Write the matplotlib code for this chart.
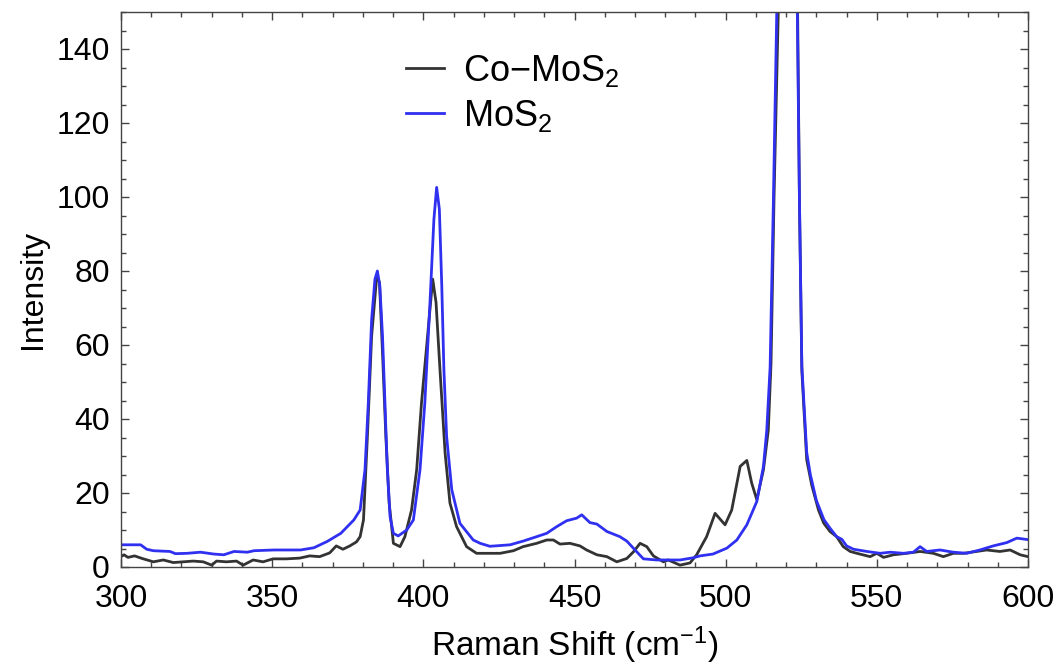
import matplotlib
matplotlib.use("Agg")
import matplotlib.pyplot as plt
from matplotlib.ticker import MultipleLocator

# ---------------- data ----------------
co_x = [300, 301, 302.3, 304.5, 307, 310.7, 314, 317.3, 320.6, 323.9, 327.2, 330, 331.6, 334.9,
        338.2, 340.4, 343.7, 347, 350.3, 354.7, 359.1, 362.4, 365.7, 369, 371.2, 373.4, 375.7,
        377.9, 379.1, 380.2, 381.5, 382.9, 384.6, 385.5, 386.5, 387.6, 388.7, 390.1, 392.3, 393.9,
        396.1, 397.8, 399.4, 401.1, 403.1, 404.2, 405.5, 407.2, 408.8, 411, 414.3, 417.6, 420.9,
        425.4, 429.8, 433, 437.5, 440.8, 443, 445.2, 448.5, 451.8, 454, 457.4, 460.7, 464, 467.3,
        469.5, 471.7, 473.9, 476.1, 479.4, 481, 484.9, 488.2, 490.4, 493.7, 496.5, 499.8, 502,
        504.8, 507, 508.6, 510.3, 512.5, 514.1, 515, 516, 517.4, 519, 520.3, 521.8, 523.8, 524.4,
        525.2, 526.8, 528.5, 530.7, 532.4, 534.5, 536.7, 538.9, 541.2, 543.4, 547.8, 550, 552.2,
        555.5, 559.9, 564.3, 568.7, 572, 575.3, 578.6, 583, 586.3, 590.7, 594.1, 597.4, 600]
co_y = [2.8, 3.3, 2.6, 3.0, 2.3, 1.4, 1.9, 1.2, 1.4, 1.6, 1.4, 0.5, 1.6, 1.4,
        1.6, 0.5, 1.9, 1.4, 2.2, 2.2, 2.4, 3.0, 2.8, 3.8, 5.7, 4.8, 5.7,
        6.8, 8.2, 12.7, 35.3, 62.4, 78.7, 76.9, 57.9, 35.3, 17.3, 6.4, 5.5, 8.2,
        15.4, 26.3, 44.4, 59.7, 77.8, 71.5, 53.4, 30.8, 17.3, 10.9, 5.5, 3.7, 3.7,
        3.7, 4.4, 5.5, 6.4, 7.3, 7.3, 6.2, 6.4, 5.7, 4.6, 3.3, 2.8, 1.4, 2.3,
        4.1, 6.4, 5.5, 3.0, 1.4, 1.9, 0.5, 1.1, 3.3, 8.2, 14.5, 11.4, 15.4,
        27.2, 28.8, 22.7, 18.2, 26.3, 37, 55, 100, 150, 450, 700, 450, 150, 99,
        53, 29, 22, 15.4, 11.9, 9.6, 8.2, 5.5, 4.2, 3.7, 2.8, 3.7, 2.6,
        3.3, 3.7, 4.2, 3.7, 2.8, 3.7, 3.7, 4.2, 4.6, 4.2, 4.6, 3.3, 2.8]

mo_x = [300, 306.5, 308.5, 310.7, 316.2, 318, 321.9, 326.3, 330.7, 334, 337.4, 341.8, 344, 350.6,
        359.4, 363.8, 368.2, 372.7, 377, 379.1, 380.7, 381.8, 382.9, 384, 384.8, 385.6, 386.5,
        387.3, 388.1, 389, 390.1, 391.7, 394.5, 396.7, 398.9, 400.5, 402.2, 403.5, 404.4, 405.3,
        406.1, 406.8, 407.7, 409.4, 412.1, 416.5, 418.8, 422, 425.4, 428.7, 433, 437.5, 440.8,
        444.1, 447.4, 450.7, 452.4, 455.1, 457.4, 460.7, 465, 467.3, 470.6, 472.8, 477.2, 484.9,
        489.3, 491.5, 495.8, 500.4, 503.7, 507, 510.3, 512.5, 513.6, 514.7, 515.8, 516.9, 518.8,
        520.3, 521.8, 523.7, 524.4, 525.2, 526.8, 528, 529, 530, 531.2, 532.5, 534.5, 536.7,
        538.4, 540, 542.3, 546.7, 551.1, 554.4, 558.8, 562.1, 564.3, 566.5, 570.9, 575.3, 579.7,
        584.1, 588.5, 593, 596.3, 600]
mo_y = [6.0, 6.0, 4.8, 4.4, 4.2, 3.6, 3.7, 4.0, 3.5, 3.3, 4.2, 4.0, 4.4, 4.6,
        4.6, 5.2, 6.9, 9.1, 12.7, 15.4, 26.3, 44.4, 66.9, 77.8, 80.0, 76.0, 62.4,
        44.4, 26.3, 13.6, 9.1, 8.4, 10.0, 12.7, 26.3, 44.4, 71.5, 94.0, 102.6, 96.7,
        76.0, 53.4, 35.3, 20.9, 11.8, 7.3, 6.4, 5.6, 5.8, 6.0, 7.0, 8.2, 9.1,
        10.9, 12.5, 13.2, 14.1, 12.0, 11.6, 9.6, 8.2, 7.0, 4.1, 2.2, 1.9, 1.9,
        2.5, 3.0, 3.5, 5.1, 7.3, 11.4, 17.7, 27.2, 37.0, 54.0, 99.5, 150, 450,
        700, 450, 150, 99.5, 54.3, 31, 25, 21.5, 18, 15.5, 12.8, 10.5, 8.2,
        7.5, 5.7, 4.8, 4.2, 3.7, 4.0, 3.7, 4.0, 5.5, 4.2, 4.6, 4.0, 3.7,
        4.6, 5.7, 6.6, 7.8, 7.4]

labels = ["Co\u2212MoS$_2$", "MoS$_2$"]
x_ticks = [300, 350, 400, 450, 500, 550, 600]
y_ticks = [0, 20, 40, 60, 80, 100, 120, 140]

# ---------------- style ----------------
plt.rcParams["font.family"] = ["Liberation Sans", "DejaVu Sans"]
plt.rcParams["mathtext.fontset"] = "custom"
plt.rcParams["mathtext.rm"] = "Liberation Sans"
plt.rcParams["mathtext.it"] = "Liberation Sans:italic"
plt.rcParams["mathtext.bf"] = "Liberation Sans:bold"

fig = plt.figure(figsize=(10.6, 6.69), dpi=100)
ax = fig.add_axes([121 / 1060, 102 / 669, 907 / 1060, 555 / 669])

ax.plot(co_x, co_y, color="#333333", lw=2.0, label=labels[0])
ax.plot(mo_x, mo_y, color="#3030f0", lw=2.0, label=labels[1])

ax.set_xlim(300, 600)
ax.set_ylim(0, 150)
ax.set_xticks(x_ticks)
ax.set_yticks(y_ticks)
ax.xaxis.set_minor_locator(MultipleLocator(10))
ax.yaxis.set_minor_locator(MultipleLocator(5))
ax.tick_params(which="both", direction="in", top=True, right=True,
               color="#444444", labelsize=23, width=1.0)
ax.tick_params(which="major", length=6)
ax.tick_params(which="minor", length=3.5)
ax.tick_params(axis="x", which="major", pad=12)
ax.tick_params(axis="y", which="major", pad=8)
for s in ax.spines.values():
    s.set_color("#444444")
    s.set_linewidth(1.0)

ax.set_xlabel("Raman Shift (cm$^{-1}$)", fontsize=24, labelpad=8)
ax.set_ylabel("Intensity", fontsize=23, labelpad=6)

ax.legend(loc="upper left", bbox_to_anchor=(0.278, 0.985), frameon=False,
          fontsize=26, handlelength=1.05, handletextpad=0.55, labelspacing=0.25)

fig.savefig("out.png", dpi=100)
